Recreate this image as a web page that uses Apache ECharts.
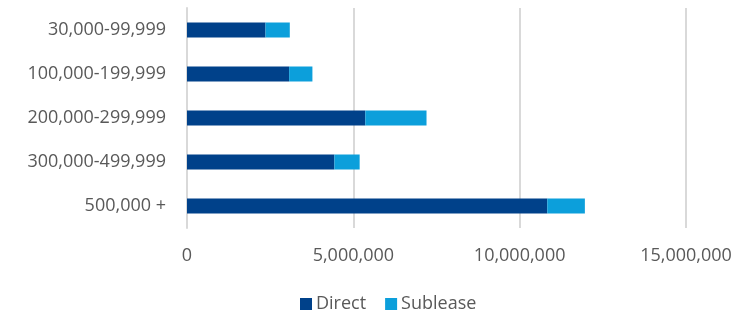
<!DOCTYPE html>
<html>
<head>
<meta charset="utf-8">
<script src="https://cdn.jsdelivr.net/npm/echarts@6/dist/echarts.min.js"></script>
<style>
  html, body { margin: 0; padding: 0; background: #fff; }
  #chart { width: 749px; height: 310px; }
</style>
</head>
<body>
<div id="chart"></div>
<script>
const categories = ["30,000-99,999", "100,000-199,999", "200,000-299,999", "300,000-499,999", "500,000 +"]
const direct = [2360000, 3070000, 5360000, 4430000, 10830000]
const sublease = [730000, 700000, 1840000, 760000, 1130000]
const seriesNames = ["Direct", "Sublease"]
const colors = ["#00418A", "#0C9FDB"]

const chart = echarts.init(document.getElementById("chart"))

const font = "'Open Sans', sans-serif"

chart.setOption({
    animation: false,
    textStyle: { fontFamily: font },
    color: colors,
    grid: {
        left: 187,
        right: 63,
        top: 8,
        bottom: 82,
    },
    legend: {
        top: 290,
        left: 295,
        itemWidth: 12,
        itemHeight: 12,
        itemGap: 19,
        icon: "rect",
        textStyle: { color: "#595959", fontSize: 18, fontFamily: font, padding: [0, 0, 0, -1] },
        data: seriesNames,
    },
    xAxis: {
        type: "value",
        min: 0,
        max: 15000000,
        interval: 5000000,
        axisLine: { show: false },
        axisTick: { show: false },
        splitLine: { lineStyle: { color: "#d9d9d9", width: 2 } },
        axisLabel: {
            color: "#595959",
            fontSize: 18,
            margin: 19,
            formatter: (v) => v.toLocaleString("en-US"),
        },
    },
    yAxis: {
        type: "category",
        inverse: true,
        data: categories,
        axisLine: { show: true, lineStyle: { color: "#d9d9d9", width: 2 } },
        axisTick: { show: false },
        axisLabel: { color: "#595959", fontSize: 18, margin: 21 },
    },
    series: [
        {
            name: seriesNames[0],
            type: "bar",
            stack: "total",
            barWidth: 15,
            data: direct,
        },
        {
            name: seriesNames[1],
            type: "bar",
            stack: "total",
            barWidth: 15,
            data: sublease,
        },
    ],
})
</script>
</body>
</html>
